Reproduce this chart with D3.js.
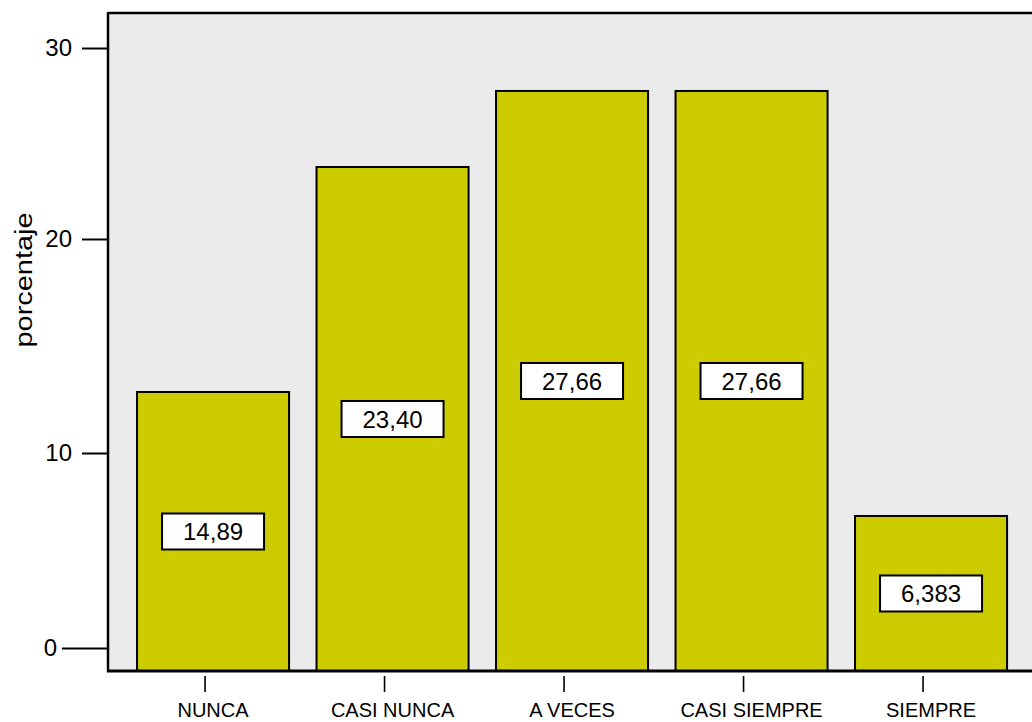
<!DOCTYPE html>
<html><head><meta charset="utf-8">
<script src="https://cdn.jsdelivr.net/npm/d3@7"></script>
<style>body{margin:0;background:#fff;overflow:hidden}</style>
</head><body><svg id="c" width="1032" height="722"></svg>
<script>
const categories = ["NUNCA", "CASI NUNCA", "A VECES", "CASI SIEMPRE", "SIEMPRE"];
const barValues = [12.85, 23.77, 27.75, 27.75, 6.77];
const valueLabels = ["14,89", "23,40", "27,66", "27,66", "6,383"];
const yTicks = [0, 10, 20, 30];
const yTitle = "porcentaje";

const FONT = "'Liberation Sans', Arial, sans-serif";
const svg = d3.select("#c");
const pLeft = 108, pTop = 13, pBottom = 671, pRight = 1040;

// axis calibrated against the picture's tick positions
const y = d3.scaleLinear()
  .domain([-1.15, 0, 10, 20, 30, 31.8])
  .range([pBottom, 648, 453, 239, 48, pTop]);

const x = d3.scaleBand()
  .domain(categories)
  .range([123.3, 1020.8])
  .paddingInner(0.153)
  .paddingOuter(0.0765);

// plot background
svg.append("rect")
  .attr("x", pLeft).attr("y", pTop)
  .attr("width", pRight - pLeft).attr("height", pBottom - pTop)
  .attr("fill", "#ebebeb");

// bars
svg.append("g").selectAll("rect")
  .data(categories)
  .join("rect")
  .attr("x", d => x(d))
  .attr("y", (d, i) => y(barValues[i]))
  .attr("width", x.bandwidth())
  .attr("height", (d, i) => pBottom - y(barValues[i]))
  .attr("fill", "#cccc00")
  .attr("stroke", "#000")
  .attr("stroke-width", 2);

// frame lines
svg.append("line").attr("x1", pLeft).attr("x2", 1032).attr("y1", pTop).attr("y2", pTop)
  .attr("stroke", "#000").attr("stroke-width", 2.5);
svg.append("line").attr("x1", pLeft).attr("x2", pLeft).attr("y1", pTop - 1).attr("y2", pBottom + 1)
  .attr("stroke", "#000").attr("stroke-width", 2.5);
svg.append("line").attr("x1", pLeft - 1).attr("x2", 1032).attr("y1", pBottom).attr("y2", pBottom)
  .attr("stroke", "#000").attr("stroke-width", 3);

// y axis
const yAxis = svg.append("g")
  .attr("transform", `translate(${pLeft},0)`)
  .call(d3.axisLeft(y).tickValues(yTicks).tickSize(26).tickPadding(10).tickFormat(d3.format("d")));
yAxis.select(".domain").remove();
yAxis.selectAll(".tick line").attr("stroke", "#000").attr("stroke-width", 2);
yAxis.selectAll(".tick text")
  .attr("fill", "#000")
  .style("font-family", FONT)
  .style("font-size", "24px");
yAxis.selectAll(".tick").filter(d => d === 0).each(function () {
  d3.select(this).select("line").attr("x2", -46);
  d3.select(this).select("text").attr("x", -51);
});

// x axis
const xAxis = svg.append("g")
  .attr("transform", `translate(0,${pBottom})`)
  .call(d3.axisBottom(x).tickSizeInner(0).tickSizeOuter(0));
xAxis.select(".domain").remove();
xAxis.selectAll(".tick line")
  .attr("x1", -8).attr("x2", -8)
  .attr("y1", 5).attr("y2", 21)
  .attr("stroke", "#000").attr("stroke-width", 1.6);
xAxis.selectAll(".tick text")
  .attr("y", 46).attr("dy", 0)
  .attr("fill", "#000")
  .style("font-family", FONT)
  .style("font-size", "20px");

// value labels
const lab = svg.append("g").selectAll("g")
  .data(categories)
  .join("g")
  .attr("transform", (d, i) => {
    const t = y(barValues[i]);
    return `translate(${x(d) + x.bandwidth() / 2},${(t + pBottom) / 2})`;
  });
lab.append("rect")
  .attr("x", -51).attr("y", -18).attr("width", 102).attr("height", 36)
  .attr("fill", "#fff").attr("stroke", "#000").attr("stroke-width", 2);
lab.append("text")
  .attr("text-anchor", "middle")
  .attr("dy", "0.36em")
  .style("font-family", FONT)
  .style("font-size", "24px")
  .attr("fill", "#000")
  .text((d, i) => valueLabels[i]);

// y title
svg.append("text")
  .attr("transform", "translate(32,280) rotate(-90)")
  .attr("text-anchor", "middle")
  .attr("textLength", 135)
  .attr("lengthAdjust", "spacingAndGlyphs")
  .style("font-family", FONT)
  .style("font-size", "23px")
  .attr("fill", "#000")
  .text(yTitle);
</script>
</body></html>
